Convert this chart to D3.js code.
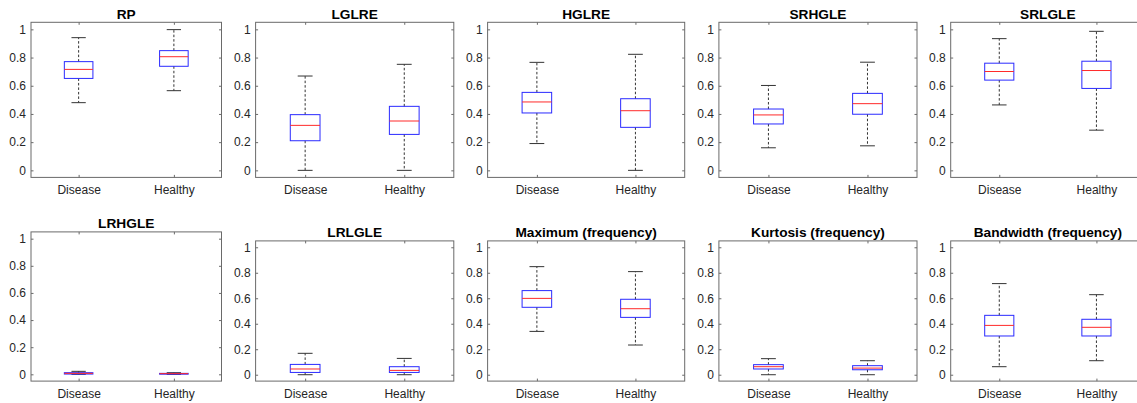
<!DOCTYPE html>
<html>
<head>
<meta charset="utf-8">
<script src="https://cdn.jsdelivr.net/npm/d3@7"></script>
<style>
  html, body { margin: 0; padding: 0; background: #fff; }
  svg { display: block; font-family: "Liberation Sans", Arial, Helvetica, sans-serif; }
</style>
</head>
<body>
<script>
// Texture / frequency features compared between the two groups (normalised 0..1)
const features = ["RP", "LGLRE", "HGLRE", "SRHGLE", "SRLGLE",
                  "LRHGLE", "LRLGLE", "Maximum (frequency)", "Kurtosis (frequency)", "Bandwidth (frequency)"];
const groups = ["Disease", "Healthy"];

// Box-plot statistics per feature: [Disease, Healthy]
const lowerWhisker = [[0.48, 0.565], [0.0, 0.0], [0.19, 0.0], [0.16, 0.174], [0.464, 0.285],
                      [0.0, 0.0], [0.0, 0.0], [0.34, 0.233], [0.0, 0.0], [0.063, 0.11]];
const quartile1    = [[0.652, 0.738], [0.21, 0.255], [0.407, 0.305], [0.329, 0.398], [0.64, 0.581],
                      [0.002, 0.001], [0.018, 0.018], [0.529, 0.45], [0.045, 0.039], [0.304, 0.304]];
const medians      = [[0.716, 0.806], [0.319, 0.35], [0.485, 0.423], [0.393, 0.473], [0.701, 0.708],
                      [0.007, 0.005], [0.045, 0.034], [0.599, 0.518], [0.063, 0.052], [0.387, 0.372]];
const quartile3    = [[0.771, 0.849], [0.395, 0.454], [0.553, 0.508], [0.435, 0.546], [0.76, 0.774],
                      [0.012, 0.007], [0.081, 0.063], [0.66, 0.592], [0.079, 0.071], [0.466, 0.435]];
const upperWhisker = [[0.941, 0.998], [0.669, 0.752], [0.766, 0.823], [0.602, 0.767], [0.934, 0.986],
                      [0.022, 0.012], [0.168, 0.128], [0.848, 0.809], [0.126, 0.11], [0.715, 0.628]];

const yTicks = [0, 0.2, 0.4, 0.6, 0.8, 1];
const yTickLabels = ["0", "0.2", "0.4", "0.6", "0.8", "1"];

// Layout of the 2 x 5 grid of axes (pixel rectangles)
const W = 1137, H = 403;
const colX = [[31, 221.5], [255.6, 453.8], [487.6, 684.7], [718.9, 917], [950.7, 1145]];
function panelRect(i) {
  const row = Math.floor(i / 5), col = i % 5;
  const [x0, x1] = colX[col];
  let top, bottom;
  if (row === 0) { top = 22.3; bottom = 177.4; }
  else if (col === 0) { top = 231.9; bottom = 381.1; }
  else { top = 240.9; bottom = 381.1; }
  return { x0, x1, top, bottom };
}

const svg = d3.select("body").append("svg")
  .attr("width", W).attr("height", H)
  .attr("viewBox", `0 0 ${W} ${H}`);

svg.append("rect").attr("width", W).attr("height", H).attr("fill", "#fff");

const axisColor = "#6a6a6a";
const textColor = "#262626";
const tickLen = 2.5;

features.forEach((name, i) => {
  const r = panelRect(i);
  const y = d3.scaleLinear().domain([-0.05, 1.05]).range([r.bottom, r.top]);
  const x = d3.scalePoint().domain(groups).range([r.x0, r.x1]).padding(0.5);
  const step = x.step();
  const g = svg.append("g");

  // axes frame
  g.append("rect")
    .attr("x", r.x0).attr("y", r.top)
    .attr("width", r.x1 - r.x0).attr("height", r.bottom - r.top)
    .attr("fill", "none").attr("stroke", axisColor).attr("stroke-width", 1);

  // y axis (labels on left, inward ticks on both sides)
  const yl = g.append("g").attr("transform", `translate(${r.x0},0)`)
    .call(d3.axisLeft(y).tickValues(yTicks).tickSize(-tickLen).tickPadding(5)
      .tickFormat((d, k) => yTickLabels[k]));
  const yr = g.append("g").attr("transform", `translate(${r.x1},0)`)
    .call(d3.axisRight(y).tickValues(yTicks).tickSize(-tickLen).tickFormat(""));

  // x axis (labels at bottom, inward ticks top and bottom)
  const xb = g.append("g").attr("transform", `translate(0,${r.bottom})`)
    .call(d3.axisBottom(x).tickSize(-tickLen).tickPadding(8));
  const xt = g.append("g").attr("transform", `translate(0,${r.top})`)
    .call(d3.axisTop(x).tickSize(-tickLen).tickFormat(""));

  [yl, yr, xb, xt].forEach(a => {
    a.select(".domain").remove();
    a.selectAll(".tick line").attr("stroke", axisColor);
    a.selectAll(".tick text").attr("fill", textColor)
      .style("font-size", "12px")
      .style("font-family", "'Liberation Sans', Arial, Helvetica, sans-serif");
  });

  // title
  g.append("text")
    .attr("x", (r.x0 + r.x1) / 2).attr("y", r.top - 3.6)
    .attr("text-anchor", "middle")
    .attr("font-size", "13.7px").attr("font-weight", "bold").attr("fill", "#000")
    .text(name);

  // boxes
  groups.forEach((grp, k) => {
    const cx = x(grp);
    const bw = 0.3 * step, cw = 0.15 * step;
    const lo = lowerWhisker[i][k], q1 = quartile1[i][k], md = medians[i][k],
          q3 = quartile3[i][k], hi = upperWhisker[i][k];

    // whiskers
    [[q3, hi], [q1, lo]].forEach(([a, b]) => {
      g.append("line")
        .attr("x1", cx).attr("x2", cx).attr("y1", y(a)).attr("y2", y(b))
        .attr("stroke", "#333").attr("stroke-width", 1).attr("stroke-dasharray", "2.5,2");
    });
    // caps
    [hi, lo].forEach(v => {
      g.append("line")
        .attr("x1", cx - cw / 2).attr("x2", cx + cw / 2).attr("y1", y(v)).attr("y2", y(v))
        .attr("stroke", "#333").attr("stroke-width", 1);
    });
    // box
    g.append("rect")
      .attr("x", cx - bw / 2).attr("width", bw)
      .attr("y", y(q3)).attr("height", Math.max(0, y(q1) - y(q3)))
      .attr("fill", "none").attr("stroke", "#2a2aff").attr("stroke-width", 1);
    // median
    g.append("line")
      .attr("x1", cx - bw / 2).attr("x2", cx + bw / 2).attr("y1", y(md)).attr("y2", y(md))
      .attr("stroke", "#ff2a2a").attr("stroke-width", 1);
  });
});
</script>
</body>
</html>
